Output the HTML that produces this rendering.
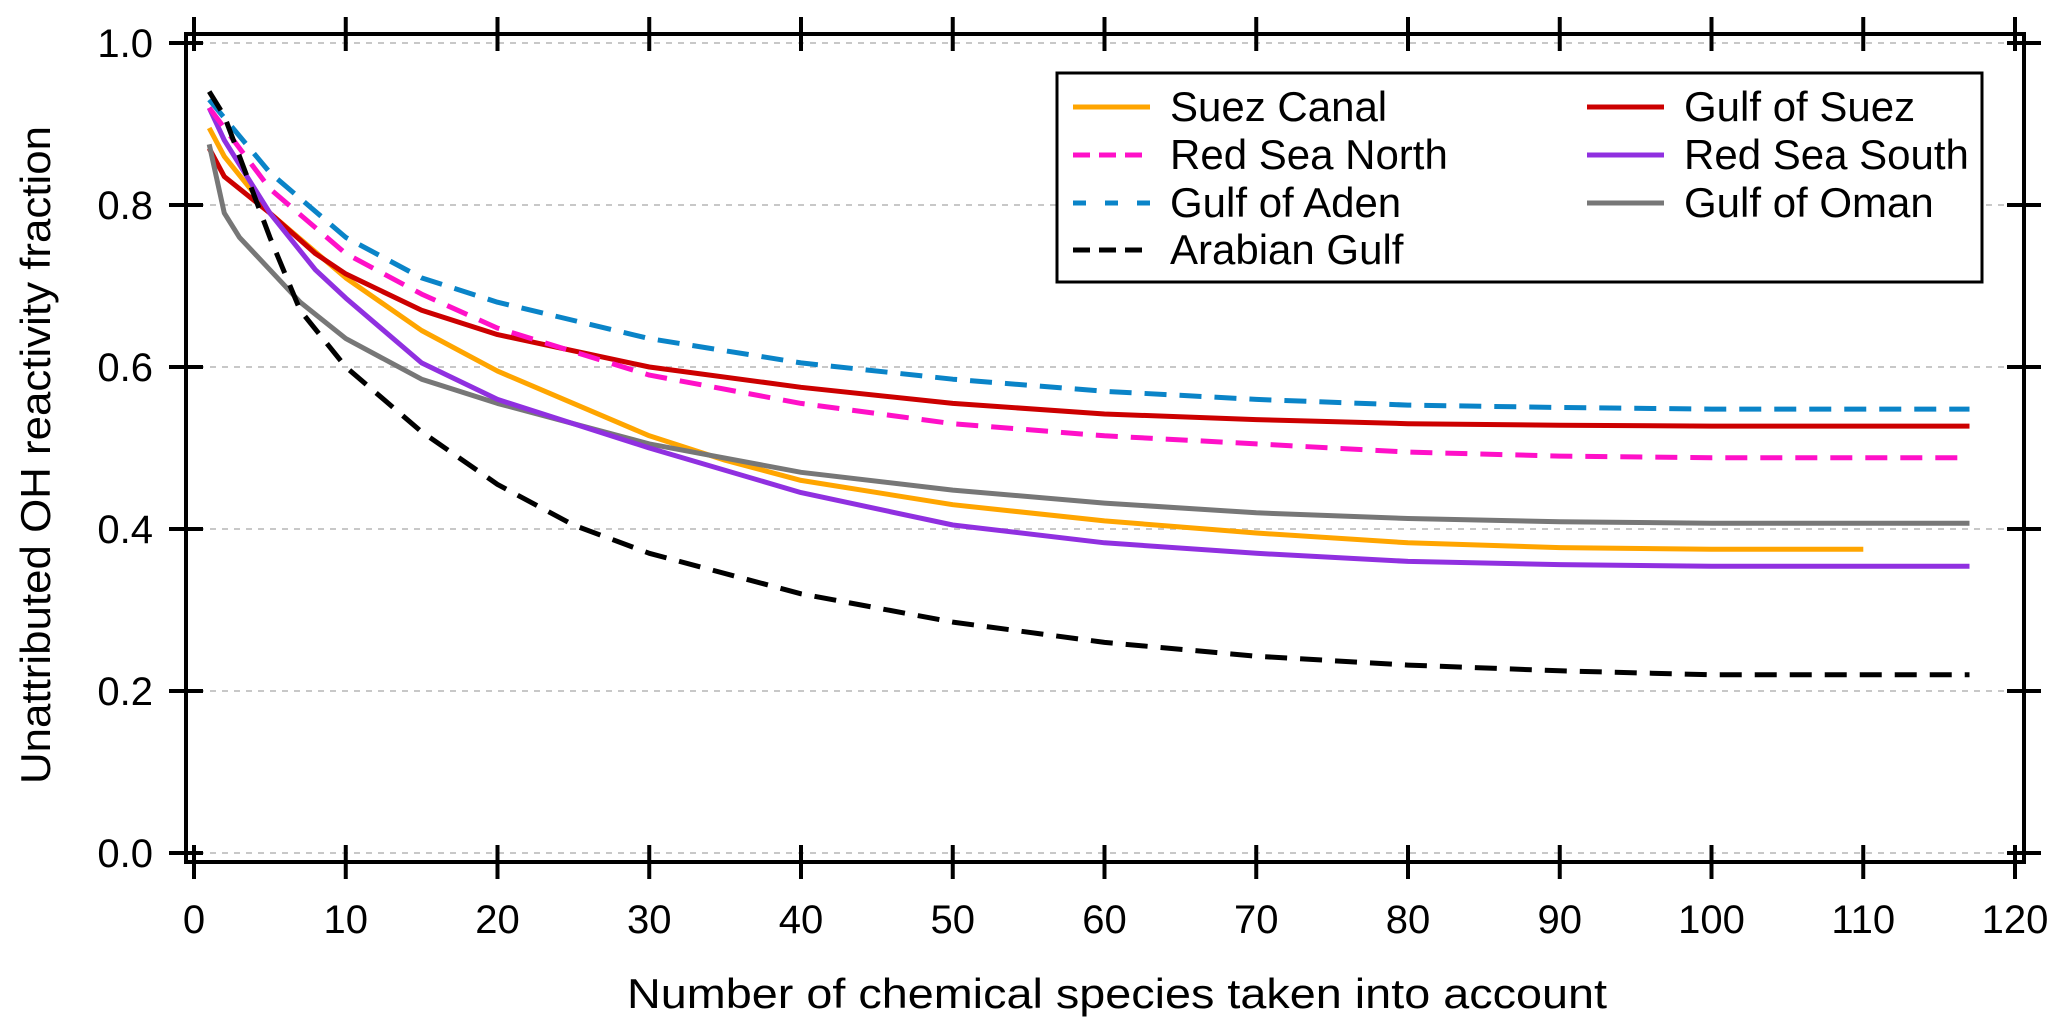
<!DOCTYPE html>
<html><head><meta charset="utf-8"><style>
html,body{margin:0;padding:0;background:#fff;}
svg{display:block;font-family:"Liberation Sans",Arial,sans-serif;}
</style></head><body>
<svg id="chart" width="2067" height="1031" viewBox="0 0 2067 1031" xmlns="http://www.w3.org/2000/svg">
<g id="grid"></g>
<g id="series"></g>
<g id="axes"></g>
<text x="0" y="0" transform="translate(50,455) rotate(-90)" text-anchor="middle" font-size="42" textLength="658" lengthAdjust="spacingAndGlyphs">Unattributed OH reactivity fraction</text>
<text x="1117" y="1008" text-anchor="middle" font-size="42" textLength="980" lengthAdjust="spacingAndGlyphs">Number of chemical species taken into account</text>
<g id="legend"></g>
</svg>
<script>
const xTicks=[0,10,20,30,40,50,60,70,80,90,100,110,120];
const yTicks=[0.0,0.2,0.4,0.6,0.8,1.0];
const yTickLabels=["0.0","0.2","0.4","0.6","0.8","1.0"];
const seriesNames=["Suez Canal","Gulf of Suez","Red Sea North","Red Sea South","Gulf of Aden","Gulf of Oman","Arabian Gulf"];
const suezCanalX=[1,2,5,10,15,20,25,30,35,40,50,60,70,80,90,100,110];
const suezCanalY=[0.895,0.86,0.79,0.71,0.645,0.595,0.555,0.515,0.485,0.46,0.43,0.41,0.395,0.383,0.377,0.375,0.375];
const gulfSuezX=[1,2,5,8,10,15,20,30,40,50,60,70,80,90,100,117];
const gulfSuezY=[0.87,0.835,0.79,0.74,0.715,0.67,0.64,0.6,0.575,0.555,0.542,0.535,0.53,0.528,0.527,0.527];
const redNorthX=[1,5,10,15,20,30,40,50,60,70,80,90,100,117];
const redNorthY=[0.92,0.82,0.74,0.69,0.648,0.59,0.555,0.53,0.515,0.505,0.495,0.49,0.488,0.488];
const redSouthX=[1,2,5,8,10,15,20,30,40,50,60,70,80,90,100,117];
const redSouthY=[0.92,0.88,0.79,0.72,0.685,0.605,0.56,0.5,0.445,0.405,0.383,0.37,0.36,0.356,0.354,0.354];
const adenX=[1,5,10,15,20,30,40,50,60,70,80,90,100,117];
const adenY=[0.93,0.84,0.76,0.71,0.68,0.635,0.605,0.585,0.57,0.56,0.553,0.55,0.548,0.548];
const omanX=[1,2,3,5,7,10,15,20,30,40,50,60,70,80,90,100,117];
const omanY=[0.875,0.79,0.76,0.72,0.68,0.635,0.585,0.555,0.505,0.47,0.448,0.432,0.42,0.413,0.409,0.407,0.407];
const arabianX=[1,2,3,5,7,10,15,20,25,30,40,50,60,70,80,90,100,117];
const arabianY=[0.94,0.91,0.86,0.76,0.67,0.6,0.52,0.455,0.405,0.37,0.32,0.285,0.26,0.243,0.232,0.225,0.22,0.22];

const NS="http://www.w3.org/2000/svg";
const L=186,T=34,R=2024,B=862;
function sx(v){return 194+v*15.175;}
function sy(v){return 853-v*810;}
function mk(tag,attrs,parent){const e=document.createElementNS(NS,tag);for(const k in attrs)e.setAttribute(k,attrs[k]);parent.appendChild(e);return e;}
const grid=document.getElementById('grid'),axes=document.getElementById('axes'),ser=document.getElementById('series'),leg=document.getElementById('legend');
yTicks.forEach((v,i)=>{
  const g=mk('line',{x1:L,x2:R,y1:sy(v),y2:sy(v),stroke:'#c8c8c8','stroke-width':2,'stroke-dasharray':'6 6'},grid);
  
  
  const t1=mk('line',{x1:169,x2:203,y1:sy(v),y2:sy(v),stroke:'#000','stroke-width':4},axes);
  
  
  const t2=mk('line',{x1:2007,x2:2041,y1:sy(v),y2:sy(v),stroke:'#000','stroke-width':4},axes);
  
  
  const tx=mk('text',{x:153,y:sy(v)+14,'text-anchor':'end','font-size':40},axes);
  tx.textContent=yTickLabels[i];
  
  
});
xTicks.forEach(v=>{
  const t1=mk('line',{x1:sx(v),x2:sx(v),y1:845,y2:879,stroke:'#000','stroke-width':4},axes);
  
  
  const t2=mk('line',{x1:sx(v),x2:sx(v),y1:17,y2:51,stroke:'#000','stroke-width':4},axes);
  
  
  const tx=mk('text',{x:sx(v),y:933,'text-anchor':'middle','font-size':40},axes);
  tx.textContent=String(v);
  
  
});
const fr=mk('rect',{x:L,y:T,width:R-L,height:B-T,fill:'none',stroke:'#000','stroke-width':4},axes);



const defs=[
 [suezCanalX,suezCanalY,'#ffa500',null,'suez-canal-line'],
 [gulfSuezX,gulfSuezY,'#cc0000',null,'gulf-of-suez-line'],
 [omanX,omanY,'#777777',null,'gulf-of-oman-line'],
 [redSouthX,redSouthY,'#9030e0',null,'red-sea-south-line'],
 [redNorthX,redNorthY,'#ff10c8','22 13','red-sea-north-line'],
 [adenX,adenY,'#0a84c8','22 13','gulf-of-aden-line'],
 [arabianX,arabianY,'#000000','22 13','arabian-gulf-line']
];
defs.forEach(d=>{
  const pts=d[0].map((x,i)=>sx(x).toFixed(1)+','+sy(d[1][i]).toFixed(1)).join(' ');
  const a={points:pts,fill:'none',stroke:d[2],'stroke-width':5,'stroke-linejoin':'round'};
  if(d[3])a['stroke-dasharray']=d[3];
  const p=mk('polyline',a,ser);
  
  
});

const lb=mk('rect',{x:1057,y:73,width:925,height:209,fill:'#fff',stroke:'#000','stroke-width':3},leg);


const items=[
 ['Suez Canal','#ffa500',null,1073,1170,107],
 ['Red Sea North','#ff10c8','17 9',1073,1170,155],
 ['Gulf of Aden','#0a84c8','13 19',1073,1170,203],
 ['Arabian Gulf','#000','17 9',1073,1170,250],
 ['Gulf of Suez','#cc0000',null,1587,1684,107],
 ['Red Sea South','#9030e0',null,1587,1684,155],
 ['Gulf of Oman','#777777',null,1587,1684,203]
];
items.forEach(it=>{
  const a={x1:it[3],x2:it[3]+77,y1:it[5],y2:it[5],stroke:it[1],'stroke-width':5};
  if(it[2])a['stroke-dasharray']=it[2];
  const s=mk('line',a,leg);
  
  
  const t=mk('text',{x:it[4],y:it[5]+14,'font-size':42},leg);
  t.textContent=it[0];
  
  
});
</script>
</body></html>
